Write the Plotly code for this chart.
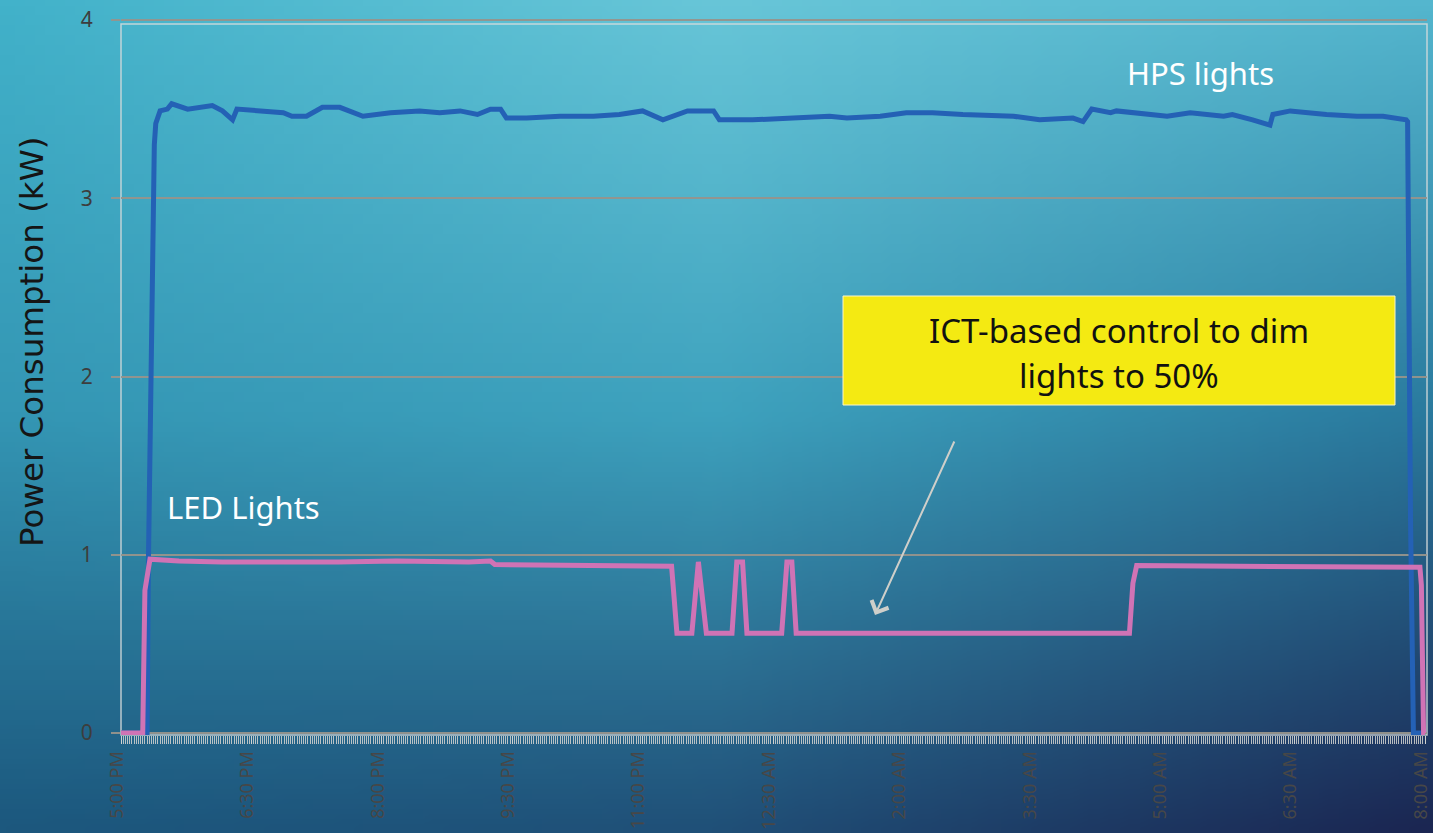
import base64
import struct
import zlib

import numpy as np
import plotly.graph_objects as go

# ---------------- data (minutes after 5:00 PM, kW) ----------------
hps_minutes = [0, 18, 19, 21, 23, 24, 26, 27, 32, 35,
               46, 63, 70, 77, 80, 112, 118, 128, 139, 151,
               167, 186, 206, 220, 234, 246, 255, 262, 266, 280,
               303, 326, 344, 360, 374, 391, 409, 413, 436, 462,
               473, 489, 501, 524, 542, 560, 581, 605, 616, 634,
               657, 664, 670, 683, 687, 722, 738, 761, 767, 781,
               793, 795, 807, 832, 853, 871, 887, 888, 890, 892,
               900]
hps_kw = [0, 0, 1.0, 2.3, 3.3, 3.42, 3.47, 3.49, 3.50, 3.53,
          3.50, 3.52, 3.49, 3.44, 3.50, 3.48, 3.46, 3.46, 3.51, 3.51,
          3.46, 3.48, 3.49, 3.48, 3.49, 3.47, 3.50, 3.50, 3.45, 3.45,
          3.46, 3.46, 3.47, 3.49, 3.44, 3.49, 3.49, 3.44, 3.44, 3.45,
          3.46, 3.46, 3.45, 3.46, 3.48, 3.48, 3.47, 3.46, 3.46, 3.44,
          3.45, 3.43, 3.50, 3.48, 3.49, 3.46, 3.48, 3.46, 3.47, 3.44,
          3.41, 3.47, 3.49, 3.47, 3.46, 3.46, 3.44, 3.43, 1.2, 0,
          0]

led_minutes = [0, 15, 16.5, 20, 40, 70, 150, 190, 240, 255,
               258, 300, 380, 383.7, 394, 398.5, 404, 421.7, 425, 429,
               432, 456, 459.6, 463, 466, 595, 696, 698.4, 701, 770,
               896.5, 897.5, 899, 900]
led_kw = [0, 0, 0.80, 0.975, 0.965, 0.96, 0.96, 0.965, 0.96, 0.965,
          0.945, 0.94, 0.935, 0.56, 0.56, 0.96, 0.56, 0.56, 0.96, 0.96,
          0.56, 0.56, 0.96, 0.96, 0.56, 0.56, 0.56, 0.84, 0.94, 0.935,
          0.93, 0.83, 0, 0]

tick_minutes = [0, 90, 180, 270, 360, 450, 540, 630, 720, 810, 900]
tick_labels = ["5:00 PM", "6:30 PM", "8:00 PM", "9:30 PM", "11:00 PM",
               "12:30 AM", "2:00 AM", "3:30 AM", "5:00 AM", "6:30 AM",
               "8:00 AM"]
y_ticks = [0, 1, 2, 3, 4]

assert len(hps_minutes) == len(hps_kw)
assert len(led_minutes) == len(led_kw)

# ---------------- layout geometry ----------------
W_FIG, H_FIG = 1433, 833
M_L, M_R, M_T, M_B = 121, 6, 18, 98
PW = W_FIG - M_L - M_R
PH = H_FIG - M_T - M_B


def px(xp):
    return (xp - M_L) / PW


def py(yp):
    return (H_FIG - M_B - yp) / PH


# ---------------- background gradient image ----------------
def gradient_uri(w=144, h=84):
    ctrl = np.array([
        [[66, 178, 202], [104, 198, 216], [84, 182, 206]],
        [[52, 150, 180], [62, 162, 190], [42, 122, 158]],
        [[28, 88, 126], [32, 80, 120], [27, 38, 82]],
    ], dtype=float)
    u = np.linspace(0, 1, w)
    v = np.linspace(0, 1, h)
    rows = np.zeros((3, w, 3))
    for r in range(3):
        for c in range(3):
            rows[r, :, c] = np.interp(u, [0, 0.5, 1], ctrl[r, :, c])
    img = np.zeros((h, w, 3))
    for c in range(3):
        for i in range(w):
            img[:, i, c] = np.interp(v, [0, 0.5, 1], rows[:, i, c])
    arr = np.clip(img, 0, 255).astype(np.uint8)
    raw = b"".join(b"\x00" + arr[i].tobytes() for i in range(h))

    def chunk(t, d):
        return (struct.pack(">I", len(d)) + t + d +
                struct.pack(">I", zlib.crc32(t + d) & 0xFFFFFFFF))

    png = (b"\x89PNG\r\n\x1a\n" +
           chunk(b"IHDR", struct.pack(">IIBBBBB", w, h, 8, 2, 0, 0, 0)) +
           chunk(b"IDAT", zlib.compress(raw, 9)) + chunk(b"IEND", b""))
    return "data:image/png;base64," + base64.b64encode(png).decode()


GRID = "rgba(150,148,140,0.95)"
FONT = "Noto Sans"


def label(text, x, y, size, color, family=FONT, angle=0):
    return dict(text=text, xref="paper", yref="paper", x=px(x), y=py(y),
                xanchor="center", yanchor="middle", showarrow=False,
                textangle=angle, font=dict(family=family, size=size, color=color))


fig = go.Figure()
fig.add_trace(go.Scatter(x=hps_minutes, y=hps_kw, mode="lines", name="HPS lights",
                         line=dict(color="#2461b5", width=5), hoverinfo="skip"))
fig.add_trace(go.Scatter(x=led_minutes, y=led_kw, mode="lines", name="LED Lights",
                         line=dict(color="#d073b5", width=5), hoverinfo="skip"))

ppm = 1304 / 900.0
ppu = 713 / 4.0

fig.update_layout(
    width=W_FIG, height=H_FIG,
    margin=dict(l=M_L, r=M_R, t=M_T, b=M_B, pad=0, autoexpand=False),
    showlegend=False,
    paper_bgcolor="#2a7fa0",
    plot_bgcolor="rgba(0,0,0,0)",
    xaxis=dict(
        range=[0, PW / ppm], automargin=False,
        tickmode="array", tickvals=tick_minutes, ticktext=tick_labels,
        tickangle=-90, ticks="outside", ticklen=8, tickwidth=1,
        tickcolor="rgba(212,212,208,0.9)",
        tickfont=dict(family=FONT, size=18, color="#474747"),
        ticklabelstandoff=0, ticklabelshift=-4, ticklabeloverflow="allow",
        showgrid=False, zeroline=False, showline=False,
        minor=dict(ticks="outside", ticklen=8, tickwidth=1, dtick=1.5, tick0=0,
                   tickcolor="rgba(212,212,208,0.85)", showgrid=False),
        fixedrange=True,
    ),
    yaxis=dict(
        range=[-2 / ppu, 4 + 2 / ppu], automargin=False,
        tickmode="array", tickvals=y_ticks,
        ticks="outside", ticklen=9, tickwidth=1.5, tickcolor=GRID,
        showgrid=True, gridcolor=GRID, gridwidth=1.5,
        zeroline=False, showline=False,
        tickfont=dict(family=FONT, size=21, color="#3d3d3d"),
        ticklabelstandoff=14,
        fixedrange=True,
    ),
    images=[dict(source=gradient_uri(), xref="paper", yref="paper",
                 x=-M_L / PW, y=1 + M_T / PH, sizex=W_FIG / PW, sizey=H_FIG / PH,
                 xanchor="left", yanchor="top", sizing="stretch", layer="below")],
    shapes=[
        dict(type="rect", xref="paper", yref="paper", x0=0, x1=1,
             y0=py(735), y1=py(24), line=dict(color="rgba(215,220,220,0.85)", width=1.5),
             fillcolor="rgba(0,0,0,0)", layer="below"),
        dict(type="rect", xref="paper", yref="paper", x0=px(843), x1=px(1395),
             y0=py(405), y1=py(296), fillcolor="#f4ea12",
             line=dict(color="#fbf6c8", width=1)),
    ],
    annotations=[
        label("HPS lights", 1200, 73, 31, "white"),
        label("LED Lights", 243, 507, 31, "white"),
        label("ICT-based control to dim", 1119, 330, 33, "#111111"),
        label("lights to 50%", 1119, 375, 33, "#111111"),
        label("Power Consumption (kW)", 32, 342, 32.5, "#151515",
              family="DejaVu Sans", angle=-90),
        dict(text="", xref="paper", yref="paper", x=px(875), y=py(615),
             ax=80, ay=-175, showarrow=True, arrowhead=4, arrowsize=1.8,
             arrowwidth=2, arrowcolor="#cfcfca"),
    ],
)

fig.write_html("out.html",
               config={"displayModeBar": False},
               post_script="document.body.style.margin='0px';"
                           "document.body.style.overflow='hidden';")
